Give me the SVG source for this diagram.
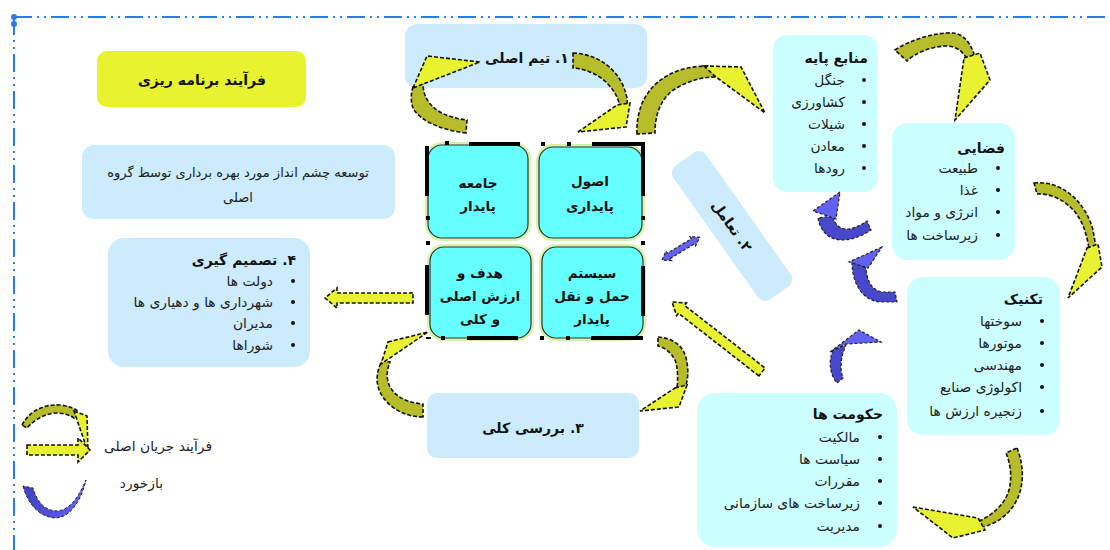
<svg xmlns="http://www.w3.org/2000/svg" width="1110" height="550" viewBox="0 0 1110 550">
<style>
text{font-family:"DejaVu Sans","Noto Sans",sans-serif;direction:rtl;fill:#222}
.b{font-weight:bold;fill:#111}
.t14{font-size:14px}
.t13{font-size:13px}
.li{font-size:13.8px}
.t15{font-size:13.5px}
.mid{text-anchor:middle}
.st{text-anchor:start}
.lb{fill:#CCEBFC}
.cy{fill:#CCFFFF}
.cell{fill:#66FFFF;stroke:#333;stroke-width:1.2}
.glow{fill:none;stroke:#D6F2A8;stroke-width:6}
.ol{fill:#B6BC2A;stroke:#111;stroke-width:1.6;stroke-dasharray:4 2}
.ye{fill:#E8F230;stroke:#111;stroke-width:1.6;stroke-dasharray:4 2}
.bd{fill:#4848CC;stroke:#222;stroke-width:1.2;stroke-dasharray:3 2}
.bl{fill:#6262F2;stroke:#222;stroke-width:1.2;stroke-dasharray:3 2}
.h{fill:#000}
.dot{fill:#111}
</style>
<defs>
<linearGradient id="cres" x1="0" y1="0" x2="1" y2="0">
<stop offset="0" stop-color="#4040C0"/><stop offset="1" stop-color="#6868FF"/>
</linearGradient>
</defs>

<g id="frame">
<line x1="14" y1="17" x2="1110" y2="17" stroke="#2B7BF0" stroke-width="2" stroke-dasharray="18 5 2 5 2 5"/>
<line x1="14" y1="17" x2="14" y2="550" stroke="#2B7BF0" stroke-width="2" stroke-dasharray="18 5 2 5 2 5"/>
<circle cx="14" cy="17" r="3" fill="#2B7BF0"/>
<circle cx="14" cy="24" r="3" fill="#2B7BF0"/>
</g>

<g id="title">
<rect x="97" y="51" width="209" height="56" rx="10" fill="#E8F22E"/>
<text x="202" y="85" class="b t14 mid">فرآیند برنامه ریزی</text>
</g>

<g id="vision">
<rect x="82" y="145" width="313" height="74" rx="12" class="lb"/>
<text x="238" y="177" class="t13 mid">توسعه چشم انداز مورد بهره برداری توسط گروه</text>
<text x="238" y="202" class="t13 mid">اصلی</text>
</g>

<g id="decision">
<rect x="108" y="238" width="202" height="129" rx="16" class="lb"/>
<text x="296" y="265" class="b t14 st">۴. تصمیم گیری</text>
<circle cx="293" cy="281" r="2" class="dot"/><text x="273" y="286" class="li st">دولت ها</text>
<circle cx="293" cy="302" r="2" class="dot"/><text x="273" y="307" class="li st">شهرداری ها و دهیاری ها</text>
<circle cx="293" cy="323" r="2" class="dot"/><text x="273" y="328" class="li st">مدیران</text>
<circle cx="293" cy="345" r="2" class="dot"/><text x="273" y="350" class="li st">شوراها</text>
</g>

<g id="team">
<rect x="405" y="24" width="242" height="64" rx="12" class="lb"/>
<text x="527" y="63" class="b t14 mid">۱. تیم اصلی</text>
</g>

<g id="review">
<rect x="427" y="393" width="212" height="65" rx="10" class="lb"/>
<text x="533" y="433" class="b t14 mid">۳. بررسی کلی</text>
</g>

<g id="interaction">
<g transform="translate(732,226) rotate(54.7)">
<rect x="-82" y="-20" width="164" height="40" rx="9" class="lb"/>
<text x="0" y="5" class="b t14 mid">۲. تعامل</text>
</g>
</g>

<g id="grid">
<rect x="428" y="145" width="100" height="93" rx="14" class="glow"/>
<rect x="539" y="147" width="103" height="91" rx="14" class="glow"/>
<rect x="430" y="247" width="101" height="91" rx="14" class="glow"/>
<rect x="542" y="247" width="101" height="91" rx="14" class="glow"/>
<rect x="428" y="145" width="100" height="93" rx="14" class="cell"/>
<rect x="539" y="147" width="103" height="91" rx="14" class="cell"/>
<rect x="430" y="247" width="101" height="91" rx="14" class="cell"/>
<rect x="542" y="247" width="101" height="91" rx="14" class="cell"/>
<g id="handles">
<rect x="425" y="146" width="4" height="50" class="h"/>
<rect x="469" y="142" width="51" height="4" class="h"/>
<rect x="445" y="141" width="4" height="4" class="h"/>
<rect x="541" y="142" width="4" height="4" class="h"/>
<rect x="567" y="142" width="4" height="4" class="h"/>
<rect x="592" y="142" width="52" height="4" class="h"/>
<rect x="641" y="142" width="4" height="54" class="h"/>
<rect x="426" y="216" width="4" height="4" class="h"/>
<rect x="426" y="241" width="4" height="4" class="h"/>
<rect x="641" y="216" width="4" height="4" class="h"/>
<rect x="641" y="241" width="4" height="4" class="h"/>
<rect x="425" y="265" width="4" height="50" class="h"/>
<rect x="641" y="266" width="4" height="50" class="h"/>
<rect x="441" y="336" width="4" height="4" class="h"/>
<rect x="467" y="336" width="51" height="4" class="h"/>
<rect x="540" y="336" width="4" height="4" class="h"/>
<rect x="566" y="336" width="4" height="4" class="h"/>
<rect x="591" y="336" width="52" height="4" class="h"/>
<rect x="426" y="337" width="5" height="2" class="h"/>
</g>
</g>

<g id="cell-society">
<text x="478" y="188" class="b t15 mid">جامعه</text>
<text x="478" y="211" class="b t15 mid">پایدار</text>
</g>
<g id="cell-principles">
<text x="590" y="186" class="b t15 mid">اصول</text>
<text x="590" y="211" class="b t15 mid">پایداری</text>
</g>
<g id="cell-goal">
<text x="480" y="278" class="b t15 mid">هدف و</text>
<text x="480" y="301" class="b t15 mid">ارزش اصلی</text>
<text x="480" y="324" class="b t15 mid">و کلی</text>
</g>
<g id="cell-transport">
<text x="592" y="278" class="b t15 mid">سیستم</text>
<text x="592" y="301" class="b t15 mid">حمل و نقل</text>
<text x="592" y="324" class="b t15 mid">پایدار</text>
</g>

<g id="resources">
<rect x="773" y="35" width="105" height="157" rx="14" class="cy"/>
<text x="868" y="63" class="b t14 st">منابع پایه</text>
<circle cx="864" cy="80" r="2" class="dot"/><text x="845" y="85" class="li st">جنگل</text>
<circle cx="864" cy="102" r="2" class="dot"/><text x="845" y="107" class="li st">کشاورزی</text>
<circle cx="864" cy="124" r="2" class="dot"/><text x="845" y="129" class="li st">شیلات</text>
<circle cx="864" cy="146" r="2" class="dot"/><text x="845" y="151" class="li st">معادن</text>
<circle cx="864" cy="168" r="2" class="dot"/><text x="845" y="173" class="li st">رودها</text>
</g>

<g id="spatial">
<rect x="892" y="123" width="123" height="137" rx="16" class="cy"/>
<text x="1005" y="153" class="b t14 st">فضایی</text>
<circle cx="998" cy="168" r="2" class="dot"/><text x="978" y="173" class="li st">طبیعت</text>
<circle cx="998" cy="190" r="2" class="dot"/><text x="978" y="195" class="li st">غذا</text>
<circle cx="998" cy="212" r="2" class="dot"/><text x="978" y="217" class="li st">انرژی و مواد</text>
<circle cx="998" cy="235" r="2" class="dot"/><text x="978" y="240" class="li st">زیرساخت ها</text>
</g>

<g id="technique">
<rect x="907" y="277" width="153" height="158" rx="16" class="cy"/>
<text x="1043" y="304" class="b t14 st">تکنیک</text>
<circle cx="1042" cy="321" r="2" class="dot"/><text x="1022" y="326" class="li st">سوختها</text>
<circle cx="1042" cy="343" r="2" class="dot"/><text x="1022" y="348" class="li st">موتورها</text>
<circle cx="1042" cy="365" r="2" class="dot"/><text x="1022" y="370" class="li st">مهندسی</text>
<circle cx="1042" cy="387" r="2" class="dot"/><text x="1022" y="392" class="li st">اکولوژی صنایع</text>
<circle cx="1042" cy="411" r="2" class="dot"/><text x="1022" y="416" class="li st">زنجیره ارزش ها</text>
</g>

<g id="government">
<rect x="697" y="393" width="200" height="154" rx="18" class="cy"/>
<text x="883" y="419" class="b t14 st">حکومت ها</text>
<circle cx="880" cy="437" r="2" class="dot"/><text x="860" y="442" class="li st">مالکیت</text>
<circle cx="880" cy="459" r="2" class="dot"/><text x="860" y="464" class="li st">سیاست ها</text>
<circle cx="880" cy="481" r="2" class="dot"/><text x="860" y="486" class="li st">مقررات</text>
<circle cx="880" cy="503" r="2" class="dot"/><text x="860" y="508" class="li st">زیرساخت های سازمانی</text>
<circle cx="880" cy="526" r="2" class="dot"/><text x="860" y="531" class="li st">مدیریت</text>
</g>

<g id="connectors">
<path class="ol" d="M466,133 C448,131 424,124 414,110 C410,102 411,93 413,87 L423,83 C423,95 428,105 440,112 C447,116 457,119 467,120 Z"/>
<path class="ye" d="M413,88 L427,56 L480,62 Z"/>
<path class="ol" d="M573,53 C600,54 622,72 627,98 L628,110 L620,108 C618,90 600,70 573,68 Z"/>
<path class="ye" d="M578,132 L617,105 L630,103 L626,127 Z"/>
<path class="ol" d="M637,134 C636,110 645,82 680,70 C690,67 700,66 708,66 L716,77 C700,77 685,82 672,91 C660,101 655,115 655,133 Z"/>
<path class="ye" d="M704,66 L741,67 L765,113 L716,77 Z"/>
<path class="ol" d="M895,50 C910,40 935,32 953,33 C963,34 970,42 974,54 L967,59 C962,50 955,46 945,46 C930,47 915,53 907,61 Z"/>
<path class="ye" d="M964,58 L980,53 L990,80 L955,120 Z"/>
<path class="ol" d="M1034,183 C1060,180 1085,200 1093,230 L1096,247 L1089,249 C1087,235 1083,222 1075,212 C1065,200 1050,193 1037,194 Z"/>
<path class="ye" d="M1087,248 L1098,244 L1102,267 L1068,298 Z"/>
<path class="ol" d="M1017,448 C1026,470 1025,500 1003,517 C997,522 990,525 983,527 L977,522 C990,517 1005,505 1009,490 C1012,478 1011,465 1006,453 Z"/>
<path class="ye" d="M913,507 L978,518 L985,530 L953,538 Z"/>
<path class="ye" transform="translate(762,372) rotate(217.9)" d="M0,-5 L102,-5 L102,-8 L114,0 L102,8 L102,5 L0,5 Z"/>
<path class="ol" d="M658,337 C672,338 683,345 686,358 C689,370 688,380 685,388 L677,389 C678,378 678,368 675,360 C671,352 665,348 658,346 Z"/>
<path class="ye" d="M675,388 L687,385 L679,407 L640,411 Z"/>
<path class="ol" d="M423,417 C405,417 388,408 380,392 C375,382 377,370 382,361 L390,362 C386,372 386,382 392,390 C399,399 410,403 423,404 Z"/>
<path class="ye" d="M388,342 L428,332 L381,364 Z"/>
<path class="ye" d="M413,293 L337,293 L337,288 L325,298 L337,308 L337,303 L413,303 Z"/>
<path class="bl" transform="translate(662,260) rotate(-31.2)" d="M0,0 L8,-5.5 L8,-3 L36,-3 L36,-5.5 L44,0 L36,5.5 L36,3 L8,3 L8,5.5 Z"/>
<path class="bd" d="M818,218 C820,230 828,240 842,240 C852,240 862,236 871,230 L867,221 C858,227 850,230 845,229 C838,228 834,223 833,216 Z"/>
<path class="bl" d="M840,192 L813,211 L836,219 Z"/>
<path class="bd" d="M852,262 C852,280 860,300 880,302 L897,302 L895,292 L882,292 C872,290 867,282 866,268 Z"/>
<path class="bl" d="M882,247 L849,262 L868,268 Z"/>
<path class="bd" d="M833,350 C828,362 830,375 837,383 L843,378 C840,370 840,358 846,345 Z"/>
<path class="bl" d="M830,352 L859,330 L881,342 L846,344 Z"/>
</g>

<g id="legend">
<path class="ol" d="M22,425 C30,410 45,404 60,405 C68,406 74,408 78,411 L74,418 C68,414 62,413 55,413 C45,414 35,419 27,428 Z"/>
<path class="ye" d="M74,411 L87,416 L88,452 Z"/>
<path class="ye" d="M27,445 L78,445 L78,438 L90,450 L78,462 L78,455 L27,455 Z"/>
<path d="M23,486 C28,505 40,517 55,518 C68,518 80,505 86,480 C78,498 70,510 57,511 C45,511 37,502 33,488 Z" fill="url(#cres)" stroke="#222" stroke-width="1" stroke-dasharray="3 2"/>
<text x="212" y="451" class="li st">فرآیند جریان اصلی</text>
<text x="163" y="488" class="li st">بازخورد</text>
</g>
</svg>
